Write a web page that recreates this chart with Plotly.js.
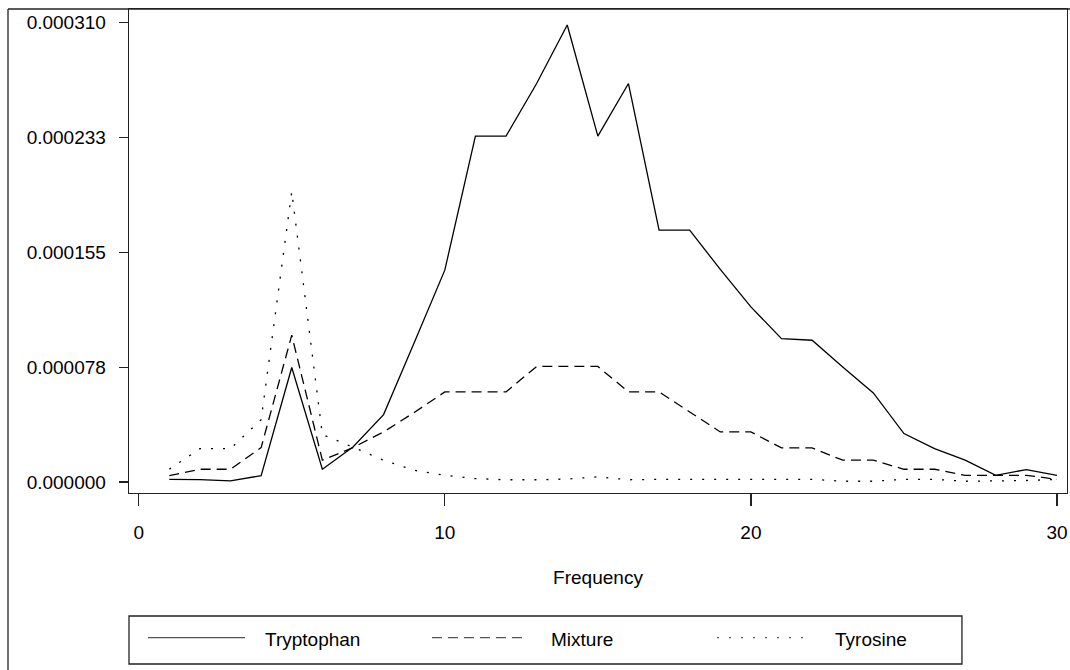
<!DOCTYPE html>
<html>
<head>
<meta charset="utf-8">
<script src="https://cdn.plot.ly/plotly-3.0.1.min.js"></script>
<style>html,body{margin:0;padding:0;background:#fff;}#chart{width:1070px;height:670px;}</style>
</head>
<body>
<div id="chart"></div>
<script>
// Data (spectral density vs frequency)
const frequency = [1,2,3,4,5,6,7,8,9,10,11,12,13,14,15,16,17,18,19,20,21,22,23,24,25,26,27,28,29,30];
const tryptophan = [1.8e-6,1.6e-6,0.7e-6,4.3e-6,77.3e-6,8.6e-6,23.6e-6,45.5e-6,94e-6,143e-6,233.5e-6,233.5e-6,269e-6,308.5e-6,233.5e-6,269e-6,170e-6,170e-6,143.5e-6,118.2e-6,96.8e-6,95.7e-6,77.7e-6,60.1e-6,32.7e-6,22.5e-6,14.7e-6,4.5e-6,8.4e-6,4.5e-6];
const mixture = [4.3e-6,8.6e-6,8.6e-6,23.2e-6,99.1e-6,14.7e-6,23.2e-6,33.8e-6,46.9e-6,60.8e-6,60.8e-6,60.8e-6,78e-6,78e-6,78e-6,60.8e-6,60.8e-6,47.3e-6,33.8e-6,33.8e-6,23e-6,23e-6,14.7e-6,14.7e-6,8.6e-6,8.6e-6,4.5e-6,4.5e-6,4.5e-6,1.8e-6];
const tyrosine = [8.6e-6,22.5e-6,22.5e-6,42.1e-6,196e-6,32e-6,23.5e-6,14.7e-6,7.9e-6,4.5e-6,2.3e-6,1.5e-6,1.5e-6,2e-6,3.5e-6,1.5e-6,1.8e-6,1.8e-6,1.8e-6,1.8e-6,1.8e-6,1.8e-6,0.5e-6,0.5e-6,1.8e-6,1.8e-6,0.5e-6,0.5e-6,1e-6,1.8e-6];
const seriesNames = ["Tryptophan","Mixture","Tyrosine"];
const yTickVals = [0, 0.0000775, 0.000155, 0.0002325, 0.00031];
const yTickText = ["0.000000","0.000078","0.000155","0.000233","0.000310"];
const xTickVals = [0,10,20,30];
const xTitle = "Frequency";

const FONT = "Liberation Sans, Arial, Helvetica, sans-serif";
const dashes = ["solid","10px,6px","2px,10px"];
const seriesY = [tryptophan, mixture, tyrosine];

const traces = seriesY.map((ys, i) => ({
  x: frequency, y: ys, type: "scatter", mode: "lines", name: seriesNames[i],
  line: {color: "#000", width: 1.3, dash: dashes[i]}, showlegend: false, hoverinfo: "x+y+name"
}));

// custom legend (layout positions in paper coordinates)
const legX = [[0.0203,0.1237,0.1429],[0.3230,0.4254,0.4478],[0.6269,0.7281,0.7505]];
const legLineY = -0.299, legTextY = -0.3037;
const shapes = [
  // outer frame (left & top)
  {type:"line", xref:"paper", yref:"paper", x0:-0.129, x1:-0.129, y0:1, y1:-0.37, line:{color:"#222", width:1.3}},
  {type:"line", xref:"paper", yref:"paper", x0:-0.129, x1:1.004, y0:1, y1:1, line:{color:"#222", width:1.3}},
  // legend box
  {type:"rect", xref:"paper", yref:"paper", x0:0, x1:0.888, y0:-0.3533, y1:-0.2541, line:{color:"#222", width:1.3}, fillcolor:"rgba(0,0,0,0)"}
];
const annotations = [];
seriesNames.forEach((n, i) => {
  shapes.push({type:"line", xref:"paper", yref:"paper", x0:legX[i][0], x1:legX[i][1], y0:legLineY, y1:legLineY,
    line:{color:"#555", width:1.3, dash:dashes[i]}});
  annotations.push({xref:"paper", yref:"paper", x:legX[i][2], y:legTextY, xanchor:"left", yanchor:"middle",
    text:n, showarrow:false, font:{family:FONT, size:19, color:"#000"}});
});

const layout = {
  width: 1070, height: 670,
  margin: {l:129, r:3, t:9, b:177},
  paper_bgcolor: "#fff", plot_bgcolor: "#fff",
  font: {family: FONT, size: 19, color: "#000"},
  xaxis: {
    range: [-0.317, 30.327], tickvals: xTickVals, ticks: "outside", ticklen: 12, tickwidth: 1.3, tickcolor: "#222",
    showline: true, linecolor: "#222", linewidth: 1.3, mirror: true, showgrid: false, zeroline: false,
    tickfont: {family: FONT, size: 19}, ticklabelstandoff: 10,
    title: {text: xTitle, font: {family: FONT, size: 19}, standoff: 28}
  },
  yaxis: {
    range: [-7.43e-6, 319.3e-6], tickvals: yTickVals, ticktext: yTickText, ticks: "outside", ticklen: 9, tickwidth: 1.3, tickcolor: "#222",
    showline: true, linecolor: "#222", linewidth: 1.3, mirror: true, showgrid: false, zeroline: false,
    tickfont: {family: FONT, size: 19}, ticklabelstandoff: 9
  },
  shapes: shapes,
  annotations: annotations,
  showlegend: false
};

Plotly.newPlot("chart", traces, layout, {displayModeBar: false, staticPlot: true});
</script>
</body>
</html>
